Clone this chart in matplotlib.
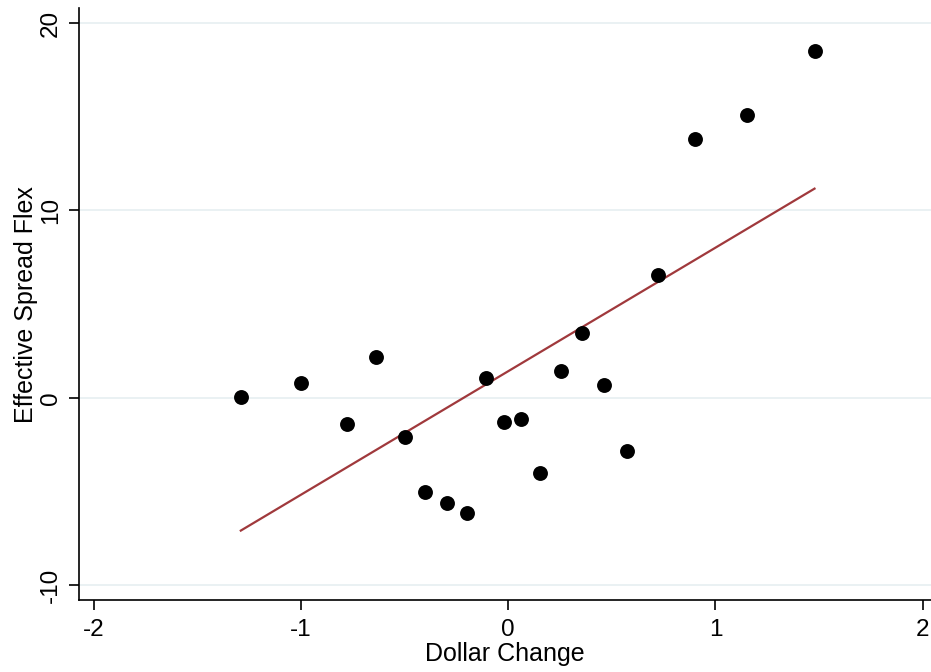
import numpy as np
import matplotlib.pyplot as plt

plt.rcParams['font.family'] = ['Liberation Sans', 'DejaVu Sans']

# data
dollar_change = [-1.29, -1.00, -0.78, -0.64, -0.50, -0.40, -0.295, -0.198, -0.106, -0.019,
                 0.063, 0.155, 0.256, 0.357, 0.464, 0.575, 0.725, 0.903, 1.15, 1.478]
spread_flex = [0.05, 0.8, -1.39, 2.19, -2.08, -5.01, -5.6, -6.13, 1.07, -1.28,
               -1.12, -4.0, 1.44, 3.47, 0.69, -2.83, 6.56, 13.81, 15.09, 18.51]
x_ticks = [-2, -1, 0, 1, 2]
y_ticks = [-10, 0, 10, 20]

x = np.array(dollar_change)
y = np.array(spread_flex)
slope, intercept = np.polyfit(x, y, 1)
xf = np.array([x.min(), x.max()])

fig = plt.figure(figsize=(9.31, 6.72), dpi=100)
ax = fig.add_axes([0.085, 0.107, 0.915, 0.881])

for t in y_ticks:
    ax.axhline(t, color='#e6eff1', lw=1.2, zorder=0)

ax.scatter(x, y, s=115, c='black', zorder=3, linewidths=0)
ax.plot(xf, slope * xf + intercept, color='#a0393c', lw=1.6, zorder=2)

ax.set_xlim(-2.07, 2.04)
ax.set_ylim(-10.8, 20.8)
ax.set_xticks(x_ticks)
ax.set_xticklabels(['-2', '-1', '0', '1', '2'])
ax.set_yticks(y_ticks)
ax.set_yticklabels(['-10', '0', '10', '20'], rotation=90, va='center')

ax.spines['top'].set_visible(False)
ax.spines['right'].set_visible(False)
for s in ('left', 'bottom'):
    ax.spines[s].set_linewidth(1.2)
ax.tick_params(direction='out', length=7.5, width=1.2, labelsize=17.5, pad=5)
ax.tick_params(axis='x', pad=6)

ax.set_xlabel('Dollar Change', fontsize=18, labelpad=1)
ax.set_ylabel('Effective Spread Flex', fontsize=18, labelpad=1)

fig.savefig('out.png', dpi=100)
